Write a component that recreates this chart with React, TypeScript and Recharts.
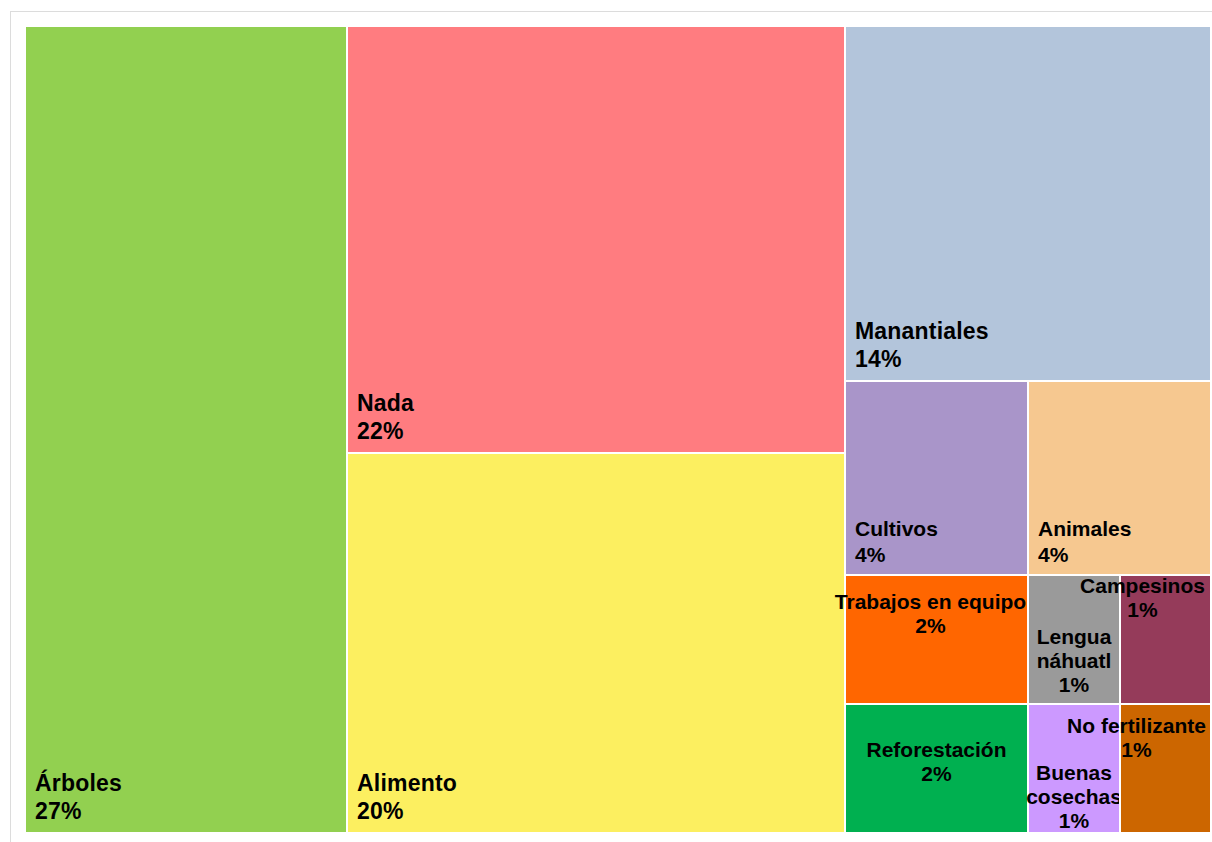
import React from "react";
import { Treemap } from "recharts";

const CATEGORIES = [
  "Árboles", "Nada", "Alimento", "Manantiales", "Cultivos", "Animales",
  "Trabajos en equipo", "Reforestación", "Lengua náhuatl", "Campesinos",
  "Buenas cosechas", "No fertilizante",
];
const COUNTS = [22, 18, 16, 11, 3, 3, 2, 2, 1, 1, 1, 1];
const COLORS = [
  "#92D050", "#FF7C80", "#FCEF60", "#B3C5DB", "#A995C9", "#F6C890",
  "#FF6600", "#00B050", "#9A9A9A", "#953B5A", "#CC99FF", "#CC6600",
];

const TOTAL = COUNTS.reduce((sum, v) => sum + v, 0);

const data = CATEGORIES.map((name, i) => ({
  name,
  value: COUNTS[i],
  color: COLORS[i],
}));

// label placement, imitating the original spreadsheet rendering
type LabelStyle = {
  mode: "corner" | "center";
  size: number;
  top?: number;
  dx?: number;
  wrap?: boolean;
};

const LABEL_STYLE: Record<string, LabelStyle> = {
  "Árboles": { mode: "corner", size: 23 },
  "Nada": { mode: "corner", size: 23 },
  "Alimento": { mode: "corner", size: 23 },
  "Manantiales": { mode: "corner", size: 23 },
  "Cultivos": { mode: "corner", size: 21 },
  "Animales": { mode: "corner", size: 21 },
  "Trabajos en equipo": { mode: "center", size: 21, top: 34, dx: -6 },
  "Reforestación": { mode: "center", size: 21, top: 53 },
  "Lengua náhuatl": { mode: "center", size: 21, top: 69, wrap: true },
  "Campesinos": { mode: "center", size: 21, top: 18, dx: -23 },
  "Buenas cosechas": { mode: "center", size: 21, top: 76, wrap: true },
  "No fertilizante": { mode: "center", size: 21, top: 29, dx: -29 },
};

const FONT = "'Liberation Sans', Arial, Helvetica, sans-serif";

const Cell = (props: any) => {
  const { x, y, width, height, depth, name, value } = props;
  if (depth !== 1) return <g />;
  const idx = CATEGORIES.indexOf(name);
  const fill = COLORS[idx] || "#ccc";
  const pct = `${Math.round((value / TOTAL) * 100)}%`;
  const style = LABEL_STYLE[name] || { mode: "center", size: 21, top: 30 };
  const big = style.size > 22;
  const textProps = {
    fill: "#000",
    stroke: "none",
    fontFamily: FONT,
    fontWeight: 700,
    fontSize: style.size,
    letterSpacing: big ? 0.2 : 0,
  };

  let label: React.ReactNode;
  if (style.mode === "corner") {
    const lx = x + 10;
    const base = y + height - (big ? 42 : 39);
    label = (
      <g>
        <text {...textProps} x={lx} y={base}>{name}</text>
        <text {...textProps} x={lx} y={base + (big ? 28 : 26)}>{pct}</text>
      </g>
    );
  } else {
    const cx = x + width / 2 + (style.dx || 0);
    const lines = style.wrap ? name.split(" ") : [name];
    lines.push(pct);
    label = (
      <g>
        {lines.map((line: string, i: number) => (
          <text key={i} {...textProps} x={cx} y={y + (style.top || 0) + i * 24} textAnchor="middle">
            {line}
          </text>
        ))}
      </g>
    );
  }

  return (
    <g>
      <rect x={x} y={y} width={width} height={height} fill={fill} stroke="#fff" strokeWidth={2} />
      {label}
    </g>
  );
};

export default function App() {
  return (
    <div style={{ position: "fixed", left: 0, top: 0, width: 1212, height: 842, overflow: "hidden", background: "#fff" }}>
      <div
        style={{
          position: "absolute",
          left: 10,
          top: 11,
          width: 1300,
          height: 1000,
          border: "1px solid #dcdcdc",
        }}
      />
      <div style={{ position: "absolute", left: 25, top: 26 }}>
        <Treemap
          width={1186}
          height={807}
          data={data}
          dataKey="value"
          nameKey="name"
          aspectRatio={0.75}
          stroke="#fff"
          type="flat"
          isAnimationActive={false}
          content={<Cell />}
        />
      </div>
    </div>
  );
}
